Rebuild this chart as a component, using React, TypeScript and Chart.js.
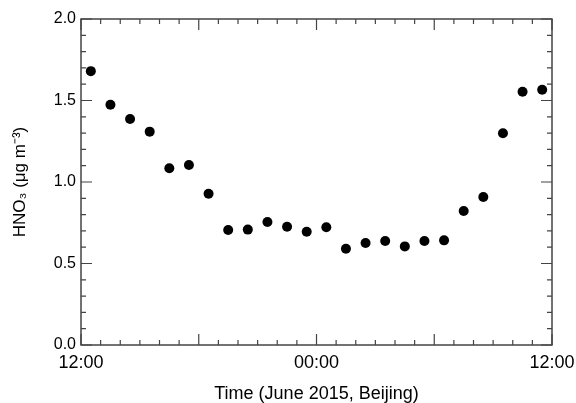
import React, { useEffect, useRef } from "react";
import { Chart, registerables } from "chart.js";

Chart.register(...registerables);

// Hours after 12:00 (local Beijing time), June 2015
const hourOffsets = [0.5, 1.5, 2.5, 3.5, 4.5, 5.5, 6.5, 7.5, 8.5, 9.5, 10.5, 11.5, 12.5, 13.5, 14.5, 15.5, 16.5, 17.5, 18.5, 19.5, 20.5, 21.5, 22.5, 23.5];
const hno3Values = [1.68, 1.474, 1.387, 1.309, 1.084, 1.104, 0.928, 0.706, 0.708, 0.755, 0.726, 0.695, 0.722, 0.591, 0.626, 0.638, 0.605, 0.638, 0.642, 0.822, 0.908, 1.299, 1.554, 1.566];

const xTickValues = [0, 12, 24];
const xTickLabels = ["12:00", "00:00", "12:00"];
const yTickValues = [0, 0.5, 1.0, 1.5, 2.0];
const yTickLabels = ["0.0", "0.5", "1.0", "1.5", "2.0"];

const xTitle = "Time (June 2015, Beijing)";
const yTitle = "HNO\u2083 (\u03bcg m\u207b\u00b3)";

const FONT = "'Liberation Sans', Arial, Helvetica, sans-serif";

const framePlugin = {
  id: "framePlugin",
  afterDraw(chart: any) {
    const { ctx, chartArea } = chart;
    const xs = chart.scales.x;
    const ys = chart.scales.y;
    const { left, right, top, bottom } = chartArea;
    ctx.save();
    ctx.strokeStyle = "#444";
    ctx.lineWidth = 1.5;
    ctx.strokeRect(left, top, right - left, bottom - top);
    ctx.lineWidth = 1.2;
    ctx.beginPath();
    for (let h = 0; h <= 24; h += 1) {
      const px = xs.getPixelForValue(h);
      const len = h % 6 === 0 ? 11 : 5;
      ctx.moveTo(px, bottom);
      ctx.lineTo(px, bottom - len);
      ctx.moveTo(px, top);
      ctx.lineTo(px, top + len);
    }
    for (let i = 0; i <= 20; i += 1) {
      const py = ys.getPixelForValue(i / 10);
      const len = i % 5 === 0 ? 11 : 5;
      ctx.moveTo(left, py);
      ctx.lineTo(left + len, py);
      ctx.moveTo(right, py);
      ctx.lineTo(right - len, py);
    }
    ctx.stroke();
    ctx.restore();
  },
};

export default function App() {
  const ref = useRef<HTMLCanvasElement>(null);
  useEffect(() => {
    document.body.style.margin = "0";
    const canvas = ref.current;
    if (!canvas) return;
    const chart = new Chart(canvas, {
      type: "scatter",
      data: {
        datasets: [
          {
            data: hourOffsets.map((h, i) => ({ x: h, y: hno3Values[i] })),
            backgroundColor: "#000",
            borderColor: "#000",
            pointRadius: 5,
            pointBorderWidth: 0,
          },
        ],
      },
      options: {
        animation: false,
        responsive: false,
        maintainAspectRatio: false,
        devicePixelRatio: 1,
        layout: { padding: { left: 0, top: 19, right: 24, bottom: 0 } },
        plugins: {
          legend: { display: false },
          tooltip: { enabled: false },
        },
        scales: {
          x: {
            type: "linear",
            min: 0,
            max: 24,
            afterBuildTicks: (s: any) => {
              s.ticks = xTickValues.map((v) => ({ value: v }));
            },
            afterFit: (s: any) => {
              s.height = 58;
              s.paddingLeft = 0;
              s.paddingRight = 0;
            },
            grid: { display: false, drawTicks: false },
            border: { display: false },
            ticks: {
              color: "#000",
              font: { family: FONT, size: 18 },
              padding: 7,
              maxRotation: 0,
              autoSkip: false,
              callback: (v: any) => {
                const i = xTickValues.indexOf(Number(v));
                return i >= 0 ? xTickLabels[i] : "";
              },
            },
            title: {
              display: true,
              text: xTitle,
              color: "#000",
              font: { family: FONT, size: 18 },
              padding: { top: 0, bottom: -2 },
            },
          },
          y: {
            type: "linear",
            min: 0,
            max: 2,
            afterBuildTicks: (s: any) => {
              s.ticks = yTickValues.map((v) => ({ value: v }));
            },
            afterFit: (s: any) => {
              s.width = 81;
              s.paddingTop = 0;
              s.paddingBottom = 0;
            },
            grid: { display: false, drawTicks: false },
            border: { display: false },
            ticks: {
              color: "#000",
              font: { family: FONT, size: 16 },
              padding: 5,
              autoSkip: false,
              callback: (v: any) => {
                const i = yTickValues.indexOf(Number(v));
                return i >= 0 ? yTickLabels[i] : "";
              },
            },
            title: {
              display: true,
              text: yTitle,
              color: "#000",
              font: { family: FONT, size: 17 },
              padding: { top: 10, bottom: 0 },
            },
          },
        },
      } as any,
      plugins: [framePlugin],
    });
    return () => chart.destroy();
  }, []);
  return (
    <div style={{ position: "absolute", left: 0, top: 0, width: 576, height: 403, background: "#fff" }}>
      <canvas ref={ref} width={576} height={403} style={{ width: 576, height: 403, display: "block" }} />
    </div>
  );
}
